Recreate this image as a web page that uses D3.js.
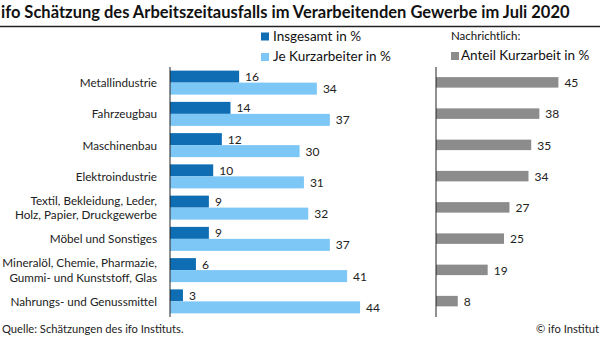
<!DOCTYPE html>
<html>
<head>
<meta charset="utf-8">
<script src="https://cdn.jsdelivr.net/npm/d3@7"></script>
<style>
  body { margin: 0; background: #fff; }
  svg { display: block; font-family: Lato, "Open Sans", sans-serif; }
</style>
</head>
<body>
<svg id="chart" width="600" height="338"></svg>
<script>
// Branchen (Zeilen können umbrechen)
const categories = [
  ["Metallindustrie"],
  ["Fahrzeugbau"],
  ["Maschinenbau"],
  ["Elektroindustrie"],
  ["Textil, Bekleidung, Leder,", "Holz, Papier, Druckgewerbe"],
  ["Möbel und Sonstiges"],
  ["Mineralöl, Chemie, Pharmazie,", "Gummi- und Kunststoff, Glas"],
  ["Nahrungs- und Genussmittel"]
];
const insgesamt = [16, 14, 12, 10, 9, 9, 6, 3];
const jeKurzarbeiter = [34, 37, 30, 31, 32, 37, 41, 44];
const anteilKurzarbeit = [45, 38, 35, 34, 27, 25, 19, 8];

const darkBlue = "#0e6db3", lightBlue = "#7cc7f6", grey = "#8c8c8c";

const svg = d3.select("#chart");
const idx = d3.range(categories.length);

// Titel
svg.append("text").attr("x", 1).attr("y", 18)
  .attr("font-size", 16.5).attr("font-weight", "bold").attr("fill", "#111")
  .text("ifo Schätzung des Arbeitszeitausfalls im Verarbeitenden Gewerbe im Juli 2020");
svg.append("line").attr("x1", 0).attr("x2", 600).attr("y1", 26.5).attr("y2", 26.5)
  .attr("stroke", "#222").attr("stroke-width", 1.5);

// Skalen
const y = d3.scaleBand().domain(idx).range([67, 317]);
const xL = d3.scaleLinear().domain([0, 10]).range([170, 213.2]);
const xR = d3.scaleLinear().domain([0, 10]).range([436, 463.2]);
const barH = 12;

// linkes Panel
const gL = svg.append("g");
gL.selectAll(".dark").data(insgesamt).join("rect")
  .attr("x", xL(0)).attr("y", (d, i) => y(i) + y.bandwidth() / 2 - barH)
  .attr("width", d => xL(d) - xL(0)).attr("height", barH).attr("fill", darkBlue);
gL.selectAll(".light").data(jeKurzarbeiter).join("rect")
  .attr("x", xL(0)).attr("y", (d, i) => y(i) + y.bandwidth() / 2)
  .attr("width", d => xL(d) - xL(0)).attr("height", barH).attr("fill", lightBlue);

gL.selectAll(".lbl1").data(insgesamt).join("text")
  .attr("x", d => xL(d) + 6).attr("y", (d, i) => y(i) + y.bandwidth() / 2 - barH / 2 + 4.5)
  .attr("font-size", 12).attr("fill", "#222").text(d => d);
gL.selectAll(".lbl2").data(jeKurzarbeiter).join("text")
  .attr("x", d => xL(d) + 6).attr("y", (d, i) => y(i) + y.bandwidth() / 2 + barH / 2 + 4.5)
  .attr("font-size", 12).attr("fill", "#222").text(d => d);

// Kategorien
const cat = svg.append("g").attr("font-size", 11.7).attr("fill", "#222").attr("text-anchor", "end");
categories.forEach((lines, i) => {
  const cy = y(i) + y.bandwidth() / 2;
  const lh = 14.5;
  lines.forEach((t, j) => {
    const txt = cat.append("text").attr("x", 157)
      .attr("y", cy + 4.5 + (j - (lines.length - 1) / 2) * lh).text(t);
    // schmale Originalschrift: zu breite Zeilen leicht stauchen
    if (txt.node().getComputedTextLength() > 155) {
      txt.attr("textLength", 155).attr("lengthAdjust", "spacingAndGlyphs");
    }
  });
});

svg.append("line").attr("x1", xL(0)).attr("x2", xL(0)).attr("y1", 67).attr("y2", 317)
  .attr("stroke", "#222").attr("stroke-width", 1);

// rechtes Panel
const gR = svg.append("g");
gR.selectAll("rect").data(anteilKurzarbeit).join("rect")
  .attr("x", xR(0)).attr("y", (d, i) => y(i) + y.bandwidth() / 2 - 5.5)
  .attr("width", d => xR(d) - xR(0)).attr("height", 10.5).attr("fill", grey);
gR.selectAll("text").data(anteilKurzarbeit).join("text")
  .attr("x", d => xR(d) + 6).attr("y", (d, i) => y(i) + y.bandwidth() / 2 + 4.5)
  .attr("font-size", 12).attr("fill", "#222").text(d => d);
svg.append("line").attr("x1", xR(0)).attr("x2", xR(0)).attr("y1", 67).attr("y2", 317)
  .attr("stroke", "#222").attr("stroke-width", 1);

// Legende
const leg = svg.append("g").attr("font-size", 13.5).attr("fill", "#111");
leg.append("rect").attr("x", 261).attr("y", 32.5).attr("width", 8).attr("height", 8).attr("fill", darkBlue);
leg.append("text").attr("x", 273).attr("y", 41).text("Insgesamt in %");
leg.append("rect").attr("x", 261).attr("y", 53).attr("width", 8).attr("height", 8).attr("fill", lightBlue);
leg.append("text").attr("x", 273).attr("y", 61).text("Je Kurzarbeiter in %");
leg.append("text").attr("x", 451).attr("y", 40).attr("font-size", 11.5).text("Nachrichtlich:");
leg.append("rect").attr("x", 451).attr("y", 52).attr("width", 8).attr("height", 8).attr("fill", grey);
leg.append("text").attr("x", 461).attr("y", 60).text("Anteil Kurzarbeit in %");

// Fußzeile
svg.append("text").attr("x", 2).attr("y", 333).attr("font-size", 11.2).attr("fill", "#222")
  .text("Quelle: Schätzungen des ifo Instituts.");
svg.append("text").attr("x", 599).attr("y", 333).attr("font-size", 11.2).attr("fill", "#222")
  .attr("text-anchor", "end").text("© ifo Institut");
</script>
</body>
</html>
